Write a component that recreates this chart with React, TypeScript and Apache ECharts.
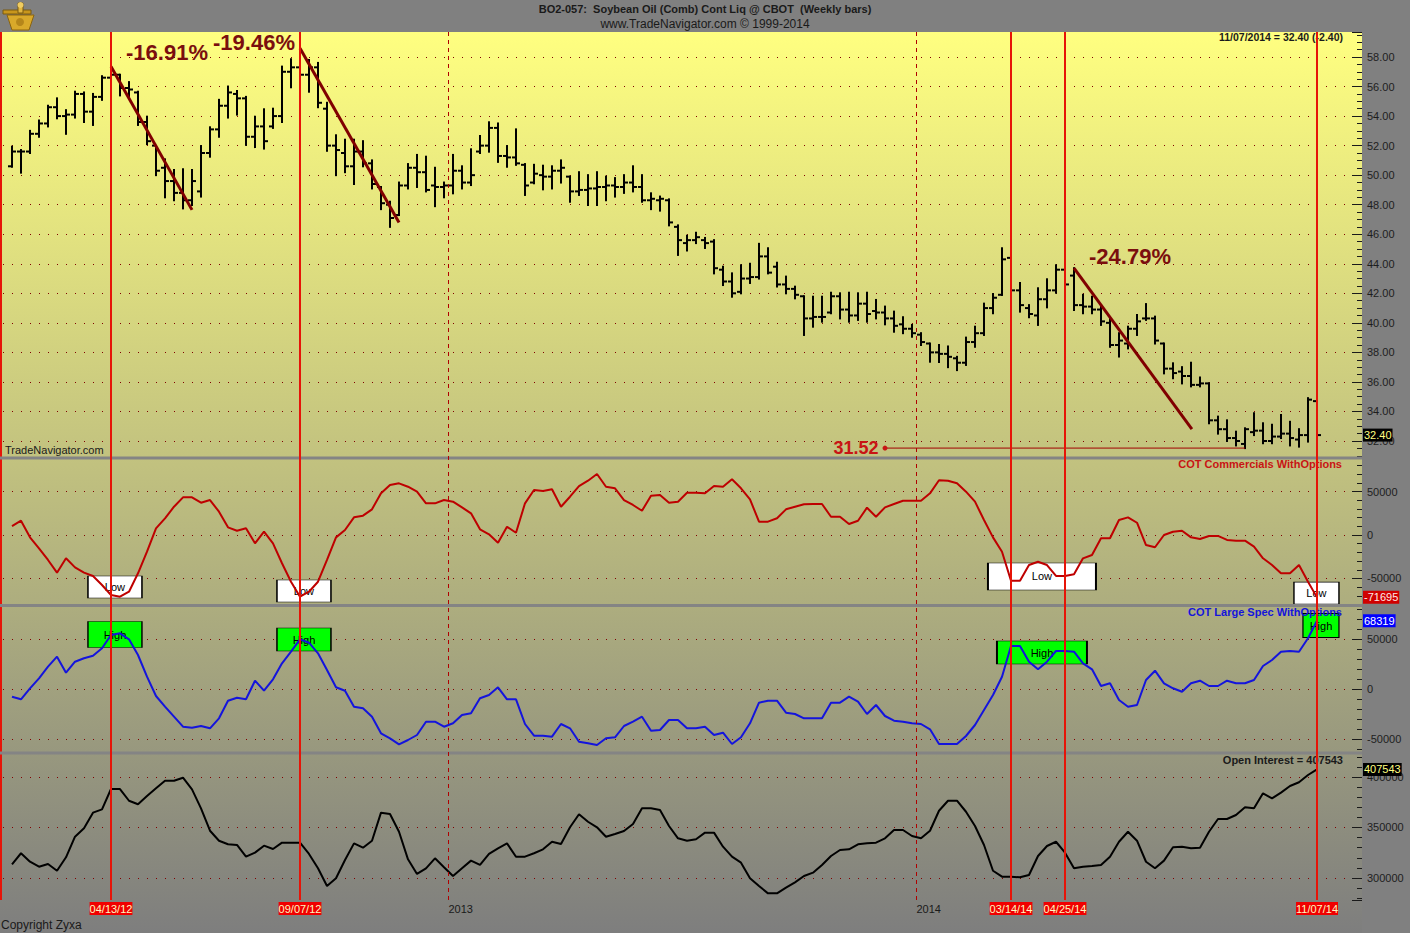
import React, { useEffect, useRef } from 'react';
import * as echarts from 'echarts';

const FONT = '"Liberation Sans", Arial, Helvetica, sans-serif';

// ---------------- DATA (weekly bars, index 0 = 01/27/12 ... 145 = 11/07/14) ----------------
const opens = [
  50.6, 51.6, 51.6, 52.8, 53.5, 54.6, 54.0, 54.1, 55.5, 54.3,
  55.3, 56.6, 56.8, 55.9, 55.6, 53.6, 52.0, 50.5, 49.6, 48.8,
  48.3, 48.9, 51.5, 53.1, 54.7, 55.5, 55.2, 52.6, 53.3, 53.3,
  54.0, 57.0, 57.3, 56.8, 57.3, 54.5, 52.0, 51.5, 50.6, 51.6,
  50.8, 49.2, 48.0, 47.3, 49.3, 50.5, 50.2, 49.3, 49.2, 49.3,
  50.3, 49.5, 51.6, 52.0, 53.2, 51.3, 51.2, 50.7, 49.5, 50.0,
  49.9, 50.3, 49.9, 48.9, 49.0, 49.1, 49.2, 49.3, 49.2, 49.5,
  49.2, 48.3, 48.3, 48.3, 46.5, 45.4, 45.6, 45.6, 45.5, 43.6,
  42.8, 42.1, 43.0, 43.1, 44.5, 43.8, 42.6, 42.3, 41.8, 40.3,
  40.4, 40.7, 41.8, 40.9, 40.5, 41.3, 40.8, 40.7, 40.3, 39.9,
  39.6, 39.2, 38.6, 38.0, 37.9, 37.6, 37.3, 38.7, 39.3, 41.0,
  41.9, 44.4, 42.2, 41.0, 40.5, 41.6, 42.2, 43.6, 43.2, 41.2,
  41.1, 40.9, 40.0, 38.5, 38.6, 39.6, 40.3, 40.3, 38.6, 36.9,
  36.7, 36.4, 35.8, 35.9, 33.4, 32.8, 32.2, 31.8, 32.6, 32.7,
  32.0, 32.3, 32.5, 32.1, 32.4, 34.7,
];
const highs = [
  51.93, 51.7, 53.0, 53.7, 54.7, 55.2, 54.4, 55.65, 55.6, 55.5,
  56.7, 57.35, 56.8, 56.3, 55.65, 53.96, 51.93, 51.07, 50.35, 50.4,
  50.35, 51.97, 53.24, 55.1, 56.0, 55.7, 55.3, 53.96, 54.46, 54.5,
  57.35, 57.85, 58.6, 57.8, 57.6, 54.9, 52.7, 52.4, 52.4, 52.3,
  51.0, 49.2, 48.2, 49.5, 50.75, 51.37, 51.25, 50.5, 49.5, 51.37,
  50.6, 51.75, 52.65, 53.58, 53.5, 51.97, 53.1, 50.75, 50.7, 50.64,
  50.6, 51.0, 49.9, 50.2, 50.0, 50.2, 49.9, 49.8, 50.0, 50.6,
  50.0, 48.77, 48.55, 48.36, 46.6, 45.9, 46.1, 45.75, 45.6, 43.8,
  43.35, 43.9, 44.0, 45.35, 45.05, 44.07, 43.13, 42.45, 41.8, 41.77,
  41.77, 42.04, 42.0, 42.04, 42.0, 42.04, 41.55, 41.1, 40.76, 40.38,
  39.86, 39.3, 38.6, 38.5, 38.4, 37.7, 39.0, 39.74, 41.3, 41.95,
  45.05, 44.5, 42.7, 41.2, 42.34, 42.95, 43.9, 43.9, 43.7, 41.9,
  41.77, 41.2, 40.3, 39.3, 39.74, 40.53, 41.27, 40.42, 38.6, 37.26,
  37.0, 37.3, 36.3, 35.9, 33.65, 33.4, 32.63, 32.86, 33.88, 33.2,
  33.1, 33.76, 33.3, 32.8, 34.9, 34.78,
];
const lows = [
  50.57, 50.17, 51.5, 52.6, 53.3, 53.85, 52.8, 53.9, 53.6, 53.4,
  55.1, 56.33, 55.4, 55.3, 53.4, 52.1, 50.0, 48.5, 48.3, 47.75,
  47.98, 48.55, 51.25, 52.6, 53.9, 54.1, 52.05, 51.9, 51.8, 53.2,
  53.6, 55.95, 56.56, 55.65, 54.6, 51.65, 50.0, 50.2, 49.4, 50.6,
  49.1, 47.7, 46.5, 47.3, 49.1, 49.2, 48.9, 47.9, 48.5, 48.77,
  49.1, 49.33, 51.5, 51.59, 50.9, 50.57, 50.7, 48.66, 49.45, 49.04,
  49.1, 49.5, 48.2, 48.66, 47.98, 47.98, 48.3, 48.55, 48.8, 48.9,
  48.2, 47.7, 47.6, 46.6, 44.6, 44.9, 45.4, 45.07, 43.35, 42.56,
  41.77, 42.0, 42.7, 43.0, 43.35, 42.46, 42.0, 41.66, 39.18, 39.74,
  40.08, 40.65, 40.3, 40.08, 40.2, 40.08, 40.3, 39.9, 39.4, 39.3,
  39.06, 38.5, 37.37, 37.35, 37.0, 36.8, 37.15, 38.38, 39.18, 40.65,
  41.89, 42.0, 40.76, 40.38, 39.86, 41.05, 42.04, 42.45, 40.87, 40.65,
  40.65, 39.86, 38.38, 37.72, 38.27, 39.18, 40.2, 38.6, 36.58, 36.25,
  35.9, 35.7, 35.7, 33.2, 32.5, 32.0, 31.7, 31.52, 32.4, 31.85,
  31.85, 32.2, 31.7, 31.62, 31.96, 32.3,
];
const closes = [
  51.6, 51.6, 52.8, 53.5, 54.6, 54.0, 54.1, 55.5, 54.3, 55.3,
  56.6, 56.8, 55.9, 55.8, 53.6, 52.3, 50.3, 49.6, 48.8, 48.3,
  49.6, 51.5, 53.1, 54.7, 55.6, 55.2, 52.6, 53.3, 52.3, 54.0,
  57.0, 57.3, 56.8, 57.3, 54.9, 52.0, 51.7, 50.6, 51.6, 50.8,
  49.4, 48.1, 47.1, 49.3, 50.5, 50.2, 49.0, 49.2, 49.3, 50.3,
  49.5, 50.0, 52.0, 53.2, 51.3, 51.2, 50.8, 49.3, 50.1, 49.9,
  50.3, 50.5, 48.9, 49.0, 49.1, 49.2, 49.3, 49.2, 49.5, 49.2,
  48.3, 48.4, 48.4, 46.8, 45.6, 45.6, 45.8, 45.4, 43.7, 42.8,
  42.0, 43.0, 43.1, 44.5, 43.4, 42.6, 42.3, 41.9, 40.3, 40.4,
  40.4, 41.8, 40.9, 40.5, 41.3, 40.6, 40.7, 40.3, 39.8, 39.6,
  39.3, 38.7, 38.0, 37.9, 37.7, 37.3, 38.7, 39.3, 41.0, 41.7,
  44.3, 42.2, 41.2, 40.6, 41.6, 42.2, 43.6, 42.6, 41.2, 41.1,
  40.9, 40.1, 38.5, 38.8, 39.6, 40.1, 40.3, 38.8, 36.9, 36.6,
  36.4, 35.8, 35.9, 33.4, 32.8, 32.2, 32.0, 32.8, 32.7, 32.0,
  32.3, 32.5, 32.2, 32.4, 34.8, 32.4,
];
const commercials = [
  10300, 16400, -2700, -15300, -28700, -43300, -26800, -37200, -43300, -47100,
  -57500, -69000, -70900, -65200, -44000, -19200, 7700, 19200, 32500, 43300,
  43300, 37100, 40200, 26800, 8800, 4900, 7700, -9600, 3800, -9600,
  -32500, -53700, -70900, -65200, -53700, -28700, -2700, 5700, 20300, 22200,
  29500, 47900, 57500, 59400, 55500, 49800, 36400, 36400, 40200, 38300,
  31800, 24900, 6500, 800, -8800, 9500, 2600, 36400, 51700, 50600,
  52500, 32500, 44000, 56300, 62400, 70100, 55500, 53700, 40200, 34500,
  27900, 45200, 46000, 37100, 38300, 48600, 48600, 47900, 56300, 55500,
  64000, 53700, 41000, 15300, 15300, 19200, 29500, 32500, 35300, 35600,
  35600, 21000, 21000, 12600, 16400, 31400, 21000, 31800, 35600, 39400,
  39400, 39400, 47900, 63000, 62400, 59400, 49800, 38300, 17200, -2700,
  -19200, -52500, -52500, -34500, -30700, -34500, -47100, -47100, -45200, -26800,
  -23000, -3800, -3800, 17200, 20300, 14100, -11500, -14100, 0, 3800,
  4900, -2700, -4600, -1100, -1100, -5700, -6500, -6500, -13400, -26800,
  -34500, -44000, -44000, -34500, -53700, -71695,
];
const largeSpec = [
  -7700, -10300, 700, 10700, 22300, 32300, 16300, 27300, 30700, 33300,
  40700, 54000, 55700, 49700, 34000, 12300, -7000, -17700, -27700, -37700,
  -38700, -37000, -39300, -29300, -11700, -8700, -10300, 8300, -1700, 9700,
  25700, 37300, 49700, 46300, 35700, 19000, 1700, -1700, -17700, -19300,
  -27700, -44300, -49300, -55300, -51000, -46000, -32700, -32700, -37700, -34300,
  -26000, -24300, -9300, -6000, 1700, -10300, -10300, -35000, -46700, -46700,
  -47700, -35000, -39300, -52700, -54300, -56000, -49300, -48300, -37000, -32700,
  -27700, -41700, -41000, -31000, -31000, -39300, -39300, -37700, -46000, -43700,
  -55000, -48300, -34300, -13700, -11700, -11700, -23700, -25000, -29300, -29300,
  -29300, -13700, -13700, -7700, -12700, -25000, -16000, -27000, -31700, -32700,
  -34300, -35000, -40300, -55000, -55000, -55000, -47000, -36000, -21000, -6000,
  12300, 43000, 43000, 27300, 19700, 27300, 38000, 38000, 37300, 25700,
  19700, 3000, 5700, -11000, -17700, -16000, 9000, 18300, 5700, 700,
  -2700, 5700, 8300, 3000, 3000, 8300, 5700, 5700, 9000, 23000,
  29000, 37300, 38000, 37300, 50700, 68319,
];
const openInterest = [
  313600, 324500, 316100, 311200, 313900, 307200, 320500, 340900, 349200, 364700,
  368000, 388100, 388100, 376500, 373000, 381200, 388800, 396300, 396300, 399300,
  387800, 369000, 346800, 336900, 333400, 332700, 321100, 325100, 332000, 328700,
  335000, 335000, 335000, 323800, 309600, 292100, 299700, 317800, 334300, 330000,
  336900, 364700, 363400, 345800, 318500, 304000, 309600, 319500, 310600, 302000,
  309600, 317200, 312900, 323800, 329400, 334300, 321100, 321100, 324500, 328400,
  335900, 333700, 350200, 363100, 355700, 350200, 340900, 343600, 346500, 353500,
  369000, 369000, 367300, 351500, 339300, 336900, 338300, 344900, 344900, 331000,
  321100, 315200, 299700, 292100, 284800, 284800, 290400, 295700, 302000, 305300,
  312900, 321800, 327700, 328400, 333400, 334300, 335000, 339300, 347500, 347500,
  341600, 339300, 346800, 366600, 376500, 376500, 365600, 351500, 332700, 307200,
  301300, 301300, 300700, 303000, 321800, 331700, 335900, 325100, 309600, 311200,
  311900, 312900, 321100, 335900, 345800, 336900, 316100, 309600, 317200, 330400,
  331000, 329400, 330000, 345800, 358400, 358400, 362400, 370000, 369000, 383900,
  378900, 384500, 391100, 394800, 402000, 407543,
];

// signal dates (vertical red lines) and year separators
const signalIdx = [11, 32, 111, 117, 145];
const signalDates = ['04/13/12', '09/07/12', '03/14/14', '04/25/14', '11/07/14'];
const yearIdx = [48.5, 100.5];
const yearLabels = ['2013', '2014'];

// decline trendlines: [startIdx, startPrice, endIdx, endPrice]
const trendLines = [
  [11, 57.35, 20, 47.65],
  [32, 58.6, 43, 46.8],
  [118, 43.7, 131.1, 32.8],
];
const trendPct = ['-16.91%', '-19.46%', '-24.79%'];

// Low / High signal boxes (anchor in data units)
const lowBoxX = [11.44, 32.44, 114.44, 144.94];
const lowBoxY = [-59770, -64400, -47700, -66700];
const highBoxX = [11.44, 32.44, 114.44, 145.44];
const highBoxY = [54500, 49500, 36500, 63500];

const TITLE = 'BO2-057:  Soybean Oil (Comb) Cont Liq @ CBOT  (Weekly bars)';
const SUBTITLE = 'www.TradeNavigator.com \u00A9 1999-2014';

// ---------------- OPTION ----------------
const X_MIN = -1.333;
const X_MAX = 150;
const GRID_L = 0;
const GRID_R = 48;

function yAxis(gridIndex: number, min: number, max: number, splitNumber: number, minorSplit: number, fmt: (v: number) => string) {
  return {
    type: 'value',
    gridIndex,
    position: 'right',
    min,
    max,
    splitNumber,
    axisLine: { show: false, onZero: false },
    axisTick: { show: true, inside: true, length: 10, lineStyle: { color: '#1a1a1a', width: 1 } },
    minorTick: { show: true, splitNumber: minorSplit, length: 5, lineStyle: { color: '#1a1a1a', width: 1 } },
    axisLabel: {
      show: true, margin: 5, color: '#1e1e1e', fontSize: 11, fontFamily: FONT,
      formatter: fmt, showMinLabel: false, showMaxLabel: false,
    },
    splitLine: {
      show: true, showMinLine: false, showMaxLine: false,
      lineStyle: { color: '#800000', width: 1, type: [1, 8], dashOffset: 6 },
    },
    minorSplitLine: { show: false },
  };
}

function xAxis(gridIndex: number) {
  return { type: 'value', gridIndex, min: X_MIN, max: X_MAX, show: false, axisLine: { onZero: false } };
}

function lastLabel(xi: number, yi: number, value: number, text: string, bg: string, fg: string) {
  return {
    type: 'scatter', xAxisIndex: xi, yAxisIndex: yi, z: 6, silent: true, clip: false,
    symbolSize: 0,
    itemStyle: { opacity: 1 },
    data: [[X_MAX, value]],
    label: {
      show: true, position: 'right', distance: 1, formatter: text,
      backgroundColor: bg, color: fg, fontSize: 11, fontFamily: FONT,
      padding: [1, 1, 0, 1], lineHeight: 12,
    },
  };
}

function buildOption(): any {
  const n = closes.length;
  const ohlc = closes.map((c, i) => [i, opens[i], highs[i], lows[i], c]);
  const lastClose = closes[n - 1];
  const change = lastClose - closes[n - 2];
  const lowIdx = lows.indexOf(Math.min(...lows));
  const lowVal = lows[lowIdx];

  const lowSizes = [[54, 22], [54, 22], [108, 27], [45, 22]];
  const highSizes = [[54, 26], [54, 23], [90, 23], [36, 24]];
  const pctOffsets = [[56, -14], [-46, -6], [56, -12]];

  const markData: any[] = signalIdx.map((x, k) => ({ xAxis: x, name: signalDates[k] }));
  yearIdx.forEach((x, k) => {
    markData.push({
      xAxis: x,
      name: yearLabels[k],
      lineStyle: { type: [4, 4], color: '#B00000', width: 1 },
      label: { backgroundColor: 'transparent', color: '#1a1a1a', align: 'left', padding: [1, 0, 0, 0] },
    });
  });

  const txt = (x: number, y: number, text: string, size: number, weight: string, fill: string, align = 'left', z = 0) => ({
    type: 'text', x, y, z,
    style: { text, fontSize: size, fontWeight: weight, fontFamily: FONT, fill, align, verticalAlign: 'middle' },
  });

  return {
    animation: false,
    backgroundColor: '#808080',
    grid: [
      { left: GRID_L, right: GRID_R, top: 32, height: 426, outerBoundsMode: 'none' },
      { left: GRID_L, right: GRID_R, top: 458, height: 147, outerBoundsMode: 'none' },
      { left: GRID_L, right: GRID_R, top: 605, height: 148, outerBoundsMode: 'none' },
      { left: GRID_L, right: GRID_R, top: 753, height: 147, outerBoundsMode: 'none' },
      { left: GRID_L, right: GRID_R, top: 32, height: 868, outerBoundsMode: 'none' },
    ],
    xAxis: [xAxis(0), xAxis(1), xAxis(2), xAxis(3), xAxis(4)],
    yAxis: [
      yAxis(0, 30.849, 59.693, 14, 4, (v: number) => v.toFixed(2)),
      yAxis(1, -80460, 88506, 3, 5, (v: number) => String(Math.round(v))),
      yAxis(2, -64000, 84000, 3, 5, (v: number) => String(Math.round(v))),
      yAxis(3, 278218, 423762, 3, 5, (v: number) => String(Math.round(v))),
      { type: 'value', gridIndex: 4, min: 0, max: 1, show: false, axisLine: { onZero: false } },
    ],
    graphic: [
      {
        type: 'rect', z: -100, silent: true,
        shape: { x: 0, y: 32, width: 1362, height: 901 },
        style: {
          fill: new echarts.graphic.LinearGradient(0, 0, 0, 1, [
            { offset: 0, color: '#FFFF80' },
            { offset: 1, color: '#7E7E7E' },
          ]),
        },
      },
      { type: 'rect', z: -50, silent: true, shape: { x: 1362, y: 32, width: 48, height: 901 }, style: { fill: '#808080' } },
      { type: 'rect', z: -50, silent: true, shape: { x: 0, y: 0, width: 1410, height: 32 }, style: { fill: '#808080' } },
      // separators
      { type: 'line', z: 5, silent: true, shape: { x1: 0, y1: 458, x2: 1362, y2: 458 }, style: { stroke: '#848484', lineWidth: 3 } },
      { type: 'line', z: 5, silent: true, shape: { x1: 0, y1: 605.5, x2: 1362, y2: 605.5 }, style: { stroke: '#848484', lineWidth: 3 } },
      { type: 'line', z: 5, silent: true, shape: { x1: 0, y1: 753, x2: 1362, y2: 753 }, style: { stroke: '#848484', lineWidth: 3 } },
      // left edge red line
      { type: 'line', z: 1, silent: true, shape: { x1: 1, y1: 32, x2: 1, y2: 900 }, style: { stroke: '#E61408', lineWidth: 2 } },
      // logo (sextant)
      {
        type: 'group', z: 2, silent: true, children: [
          { type: 'polygon', shape: { points: [[7, 15], [34, 15], [29, 30], [12, 30]] }, style: { fill: '#D9A92A', stroke: '#8A6410', lineWidth: 1 } },
          { type: 'rect', shape: { x: 3, y: 10, width: 28, height: 4 }, style: { fill: '#C8961C', stroke: '#7A5A10', lineWidth: 1 } },
          { type: 'rect', shape: { x: 18, y: 3, width: 5, height: 10 }, style: { fill: '#E2B640', stroke: '#7A5A10', lineWidth: 1 } },
          { type: 'circle', shape: { cx: 20.5, cy: 5, r: 3 }, style: { fill: '#F0CC60' } },
          { type: 'circle', shape: { cx: 20, cy: 22, r: 4 }, style: { fill: '#B5861A' } },
        ],
      },
      // header texts
      txt(705, 9, TITLE, 11, 'bold', '#1a1a1a', 'center', 1),
      txt(705, 24, SUBTITLE, 12, 'normal', '#1a1a1a', 'center', 1),
      txt(1343, 37, `11/07/2014 = ${lastClose.toFixed(2)} (${change.toFixed(2)})`, 10.5, 'bold', '#1a1a1a', 'right', 0),
      txt(5, 450, 'TradeNavigator.com', 11, 'normal', '#1a1a1a', 'left', 0),
      txt(1342, 464, 'COT Commercials WithOptions', 11, 'bold', '#C81414', 'right', 3),
      txt(1342, 612, 'COT Large Spec WithOptions', 11, 'bold', '#1414DC', 'right', 3),
      txt(1343, 760, `Open Interest = ${openInterest[n - 1]}`, 11, 'bold', '#1a1a1a', 'right', 3),
      txt(1, 925, 'Copyright Zyxa', 12, 'normal', '#1a1a1a', 'left', 1),
    ],
    series: [
      // vertical signal lines + date labels
      {
        type: 'scatter', xAxisIndex: 4, yAxisIndex: 4, z: 1, silent: true, symbolSize: 0,
        data: [[0, 0]],
        markLine: {
          silent: true, symbol: ['none', 'none'], animation: false,
          lineStyle: { color: '#E61408', width: 2, type: 'solid', opacity: 1 },
          label: {
            show: true, position: 'start', formatter: '{b}', distance: 2,
            backgroundColor: '#F00000', color: '#FFF8C0', fontSize: 11, fontFamily: FONT,
            padding: [1, 0, 0, 0], lineHeight: 12,
          },
          data: markData,
        },
      },
      // OHLC bars
      {
        type: 'custom', xAxisIndex: 0, yAxisIndex: 0, z: 3, silent: true,
        encode: { x: 0, y: [1, 2, 3, 4] },
        data: ohlc,
        renderItem: (params: any, api: any) => {
          const i = api.value(0);
          const pO = api.coord([i, api.value(1)]);
          const pH = api.coord([i, api.value(2)]);
          const pL = api.coord([i, api.value(3)]);
          const pC = api.coord([i, api.value(4)]);
          const style = { stroke: '#000000', lineWidth: 2 };
          return {
            type: 'group',
            children: [
              { type: 'line', shape: { x1: pH[0], y1: pH[1] - 1, x2: pL[0], y2: pL[1] + 1 }, style },
              { type: 'line', shape: { x1: pO[0] - 4, y1: pO[1], x2: pO[0], y2: pO[1] }, style },
              { type: 'line', shape: { x1: pC[0], y1: pC[1], x2: pC[0] + 4, y2: pC[1] }, style },
            ],
          };
        },
      },
      // trend lines
      {
        type: 'lines', coordinateSystem: 'cartesian2d', xAxisIndex: 0, yAxisIndex: 0, z: 4, silent: true,
        lineStyle: { color: '#800000', width: 3, opacity: 1 },
        data: trendLines.map((t) => ({ coords: [[t[0], t[1]], [t[2], t[3]]] })),
      },
      // percentage labels
      {
        type: 'scatter', xAxisIndex: 0, yAxisIndex: 0, z: 4, silent: true, symbolSize: 0, clip: false,
        itemStyle: { opacity: 1 },
        data: trendLines.map((t, k) => ({
          value: [t[0], t[1]],
          label: {
            show: true, position: 'inside', offset: pctOffsets[k], formatter: trendPct[k],
            fontSize: 22, fontWeight: 'bold', fontFamily: FONT, color: '#7A0E0E', opacity: 1,
          },
        })),
      },
      // lowest low line
      {
        type: 'line', xAxisIndex: 0, yAxisIndex: 0, z: 4, silent: true,
        lineStyle: { color: '#A00000', width: 1 },
        itemStyle: { color: '#C81414', opacity: 1 },
        data: [
          {
            value: [97, lowVal], symbol: 'circle', symbolSize: 5,
            label: {
              show: true, position: 'left', distance: 4, formatter: lowVal.toFixed(2),
              fontSize: 18, fontWeight: 'bold', fontFamily: FONT, color: '#C81414',
            },
          },
          { value: [lowIdx, lowVal], symbol: 'none' },
        ],
      },
      // Low boxes
      {
        type: 'scatter', xAxisIndex: 1, yAxisIndex: 1, z: 2, silent: true, clip: false, symbol: 'rect',
        itemStyle: { color: '#FFFFFF', borderColor: '#000000', borderWidth: 1, opacity: 1 },
        label: { show: true, position: 'inside', formatter: 'Low', color: '#000', fontSize: 11, fontFamily: FONT },
        data: lowBoxX.map((x, k) => ({ value: [x, lowBoxY[k]], symbolSize: lowSizes[k] })),
      },
      // High boxes
      {
        type: 'scatter', xAxisIndex: 2, yAxisIndex: 2, z: 2, silent: true, clip: false, symbol: 'rect',
        itemStyle: { color: '#00FF00', borderColor: '#000000', borderWidth: 1, opacity: 1 },
        label: { show: true, position: 'inside', formatter: 'High', color: '#000', fontSize: 11, fontFamily: FONT },
        data: highBoxX.map((x, k) => ({ value: [x, highBoxY[k]], symbolSize: highSizes[k] })),
      },
      // COT commercials
      {
        type: 'line', xAxisIndex: 1, yAxisIndex: 1, z: 3, silent: true, symbol: 'none',
        lineStyle: { color: '#BE0000', width: 2 },
        data: commercials.map((v, i) => [i, v]),
      },
      // COT large spec
      {
        type: 'line', xAxisIndex: 2, yAxisIndex: 2, z: 3, silent: true, symbol: 'none',
        lineStyle: { color: '#1414DC', width: 2 },
        data: largeSpec.map((v, i) => [i, v]),
      },
      // open interest
      {
        type: 'line', xAxisIndex: 3, yAxisIndex: 3, z: 3, silent: true, symbol: 'none',
        lineStyle: { color: '#000000', width: 2 },
        data: openInterest.map((v, i) => [i, v]),
      },
      lastLabel(0, 0, lastClose, lastClose.toFixed(2), '#000000', '#FFFF80'),
      lastLabel(1, 1, commercials[n - 1], String(commercials[n - 1]), '#D00000', '#FFE8E8'),
      lastLabel(2, 2, largeSpec[n - 1], String(largeSpec[n - 1]), '#0000FF', '#FFFFFF'),
      lastLabel(3, 3, openInterest[n - 1], String(openInterest[n - 1]), '#000000', '#FFFF80'),
    ],
  };
}

export default function App() {
  const ref = useRef<HTMLDivElement>(null);
  useEffect(() => {
    const chart = echarts.init(ref.current as HTMLDivElement, null, { renderer: 'svg' });
    chart.setOption(buildOption());
    return () => chart.dispose();
  }, []);
  return (
    <div
      ref={ref}
      style={{ position: 'fixed', left: 0, top: 0, width: 1410, height: 933 }}
    />
  );
}
